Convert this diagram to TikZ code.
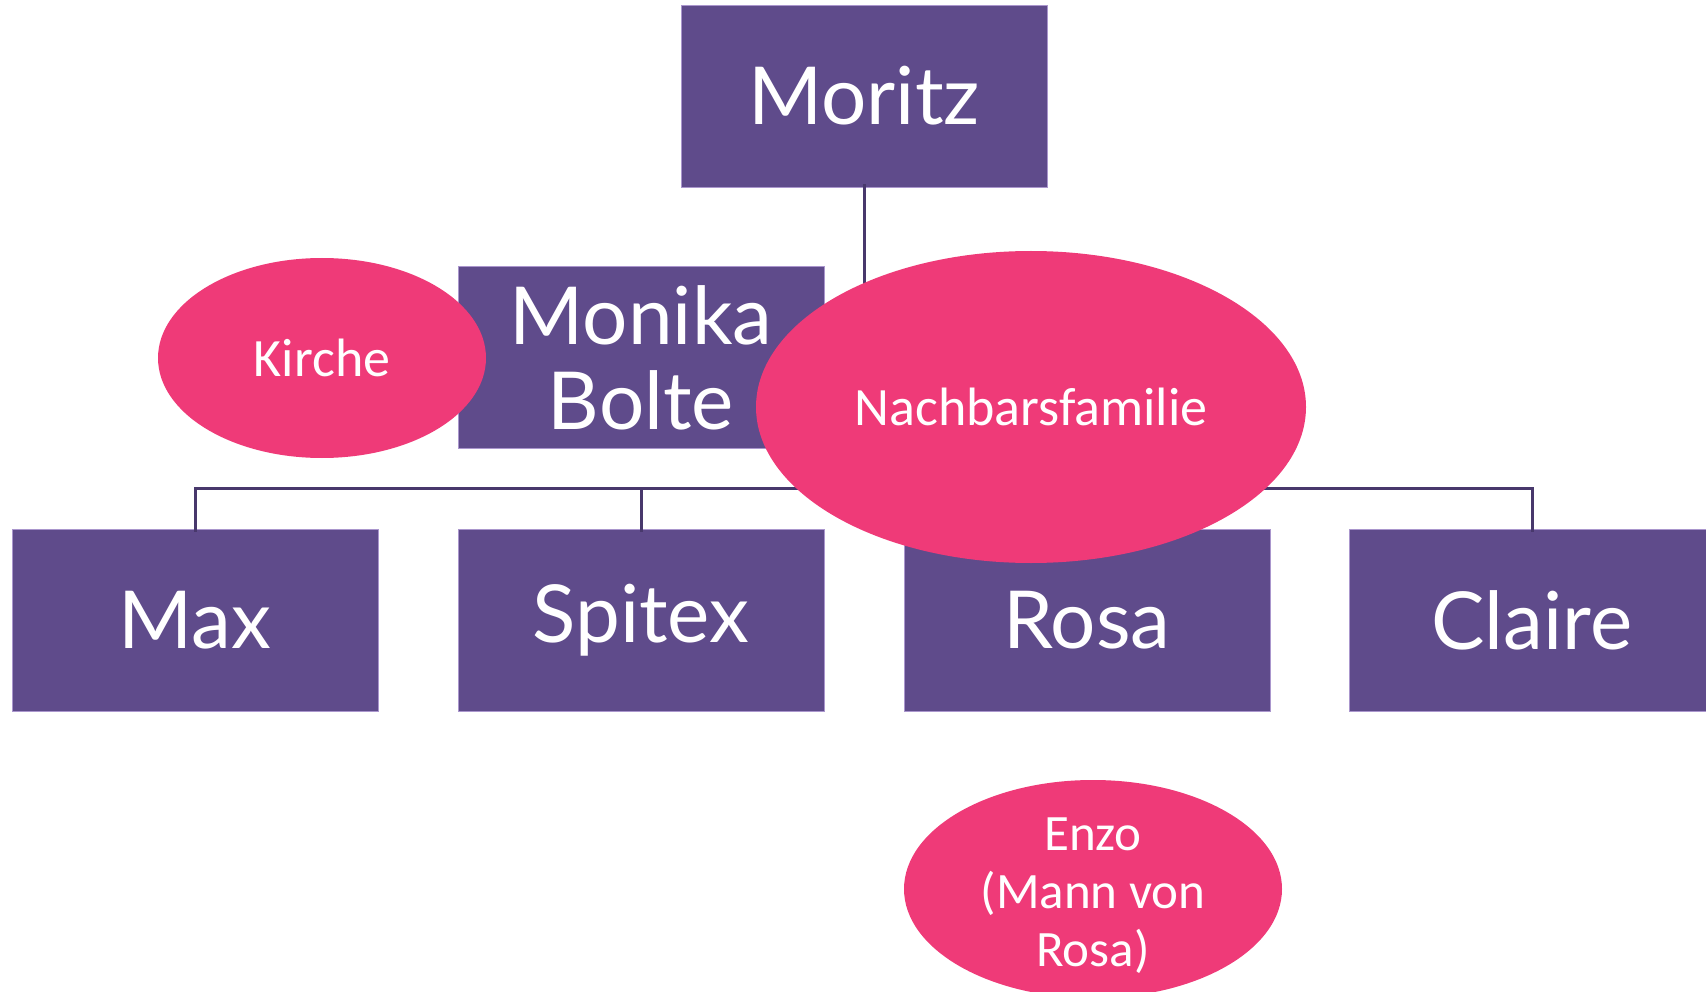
\documentclass[tikz,border=0pt]{standalone}
\usepackage{fontspec}
\setmainfont{Lato}
\newfontfamily\ellfont{Carlito}
\usetikzlibrary{shapes.geometric}
\definecolor{boxpurple}{RGB}{95,75,139}
\definecolor{boxedge}{RGB}{170,150,205}
\definecolor{linepurple}{RGB}{72,56,108}
\definecolor{ellpink}{RGB}{239,58,120}
\tikzset{
  orgbox/.style={rectangle, fill=boxpurple, draw=boxedge, line width=0.8pt,
    minimum width=366pt, minimum height=182pt, inner sep=0pt,
    text=white, font=\fontsize{80}{85}\selectfont, align=center},
  bubble/.style={ellipse, fill=ellpink, draw=none, inner sep=0pt,
    text=white, font=\ellfont\fontsize{54}{58}\selectfont, align=center},
  tie/.style={draw=linepurple, line width=3pt}
}
\begin{document}
\begin{tikzpicture}[x=1pt,y=-1pt]
\useasboundingbox (0,0) rectangle (1706,992);
\node[orgbox] (moritz) at (864,96) {Moritz};
\node[orgbox] (monika) at (641,357.5) {Monika\\Bolte};
\node[orgbox] (max) at (195,620) {Max};
\node[orgbox] (spitex) at (641,620) {Spitex};
\node[orgbox] (rosa) at (1087,620) {Rosa};
\node[orgbox] (claire) at (1532,620) {Claire};
\coordinate (bus) at (864,488.5);
\draw[tie] ([yshift=3pt]moritz.south) -- (moritz.south |- bus);
\draw[tie] ([yshift=-3pt]max.north) -- (max.north |- bus) -- (claire.north |- bus) -- ([yshift=-3pt]claire.north);
\draw[tie] ([yshift=-3pt]spitex.north) -- (spitex.north |- bus);
\draw[tie] ([yshift=-3pt]rosa.north) -- (rosa.north |- bus);
\node[bubble, minimum width=328pt, minimum height=200pt] (kirche) at (322,358) {Kirche};
\node[bubble, minimum width=550pt, minimum height=312pt] (nachbar) at (1031,407) {\raisebox{-3pt}{Nachbarsfamilie}};
\node[bubble, minimum width=378pt, minimum height=218pt] (enzo) at (1093,889) {};
\node[font=\ellfont\fontsize{51}{58}\selectfont, text=white, align=center] (enzotext) at ([yshift=-7pt]enzo.center) {Enzo\\(Mann von\\Rosa)};
\end{tikzpicture}
\end{document}
